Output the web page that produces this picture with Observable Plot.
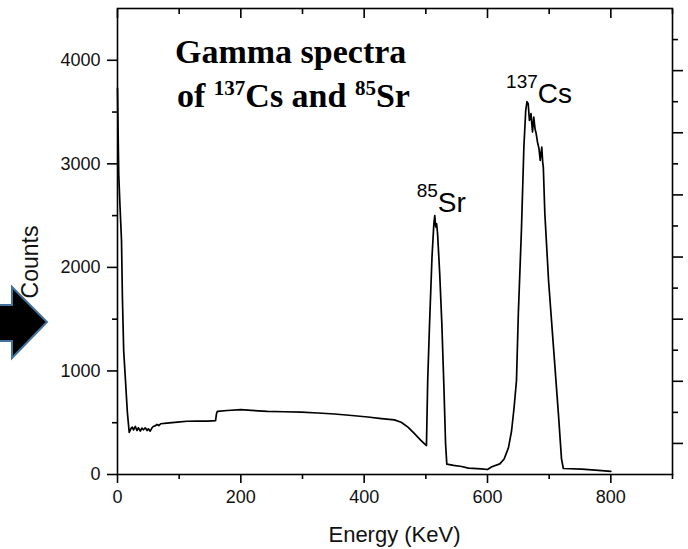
<!DOCTYPE html>
<html>
<head>
<meta charset="utf-8">
<script src="https://cdn.jsdelivr.net/npm/d3@7"></script>
<script src="https://cdn.jsdelivr.net/npm/@observablehq/plot@0.6"></script>
<style>
  html, body { margin: 0; padding: 0; background: white; }
  #chart { width: 688px; height: 549px; }
</style>
</head>
<body>
<div id="chart"></div>
<script>
// Spectrum (energy in keV, counts)
const energy = [0, 1, 2, 4, 6.5, 8, 10, 13, 16, 19,
  22, 24, 26, 29, 31.5, 34, 37, 39.5, 42, 45, 48, 50, 53, 56, 58, 61, 64, 67, 70,
  80, 97, 113, 129, 146, 159, 160.5, 162, 178, 200, 217, 243, 270, 298, 325, 352,
  380, 406, 428, 449, 460, 471, 482, 492, 501,
  503, 506, 510, 513, 514.5, 516, 517.5, 519, 522.5, 526, 529.5, 532, 534,
  545, 558, 569, 590, 600, 607, 620, 627, 634, 639, 643, 647,
  650, 655, 659, 662, 664, 666, 668, 670.5, 673, 675, 677, 679, 681, 683.5, 685.5,
  688, 689.5, 690.5, 693, 699, 707, 715, 720, 723, 753, 780, 800];
const counts = [3730, 3300, 2900, 2600, 2260, 1700, 1200, 900, 600, 406,
  445, 457, 431, 464, 425, 451, 419, 448, 432, 451, 425, 441, 419, 451, 464, 470, 483, 472, 490,
  496, 506, 514, 516, 516, 521, 586, 610, 618, 626, 619, 610, 606, 602, 594, 584,
  570, 555, 540, 528, 505, 457, 393, 330, 280,
  900, 1450, 2100, 2420, 2500, 2390, 2420, 2330, 1940, 1450, 810, 300, 100,
  88, 77, 61, 55, 48, 75, 103, 150, 260, 420, 640, 908,
  1553, 2357, 3162, 3517, 3600, 3580, 3420, 3485, 3307, 3452, 3340, 3290, 3211, 3147, 3034,
  3162, 3017, 2969, 2519, 1874, 1230, 586, 151, 58, 52, 39, 30];

// Axis ticks
const xMajor = [0, 200, 400, 600, 800];
const xMinor = [100, 300, 500, 700, 900];
const yMajor = [0, 1000, 2000, 3000, 4000];
const yMinor = [500, 1500, 2500, 3500];
const rightMajor = [300, 900, 1500, 2100, 2700, 3300, 3900];
const rightMinor = [600, 1200, 1800, 2400, 3000, 3600, 4200];

// Texts
const xLabel = "Energy (KeV)";
const yLabel = "Counts";
const titleLine1 = "Gamma spectra";
const titleLine2 = [["of ", false], ["137", true], ["Cs and ", false], ["85", true], ["Sr", false]];
const peakLabels = [
  {sup: "137", base: "Cs", E: 631, C: 3585},
  {sup: "85", base: "Sr", E: 486, C: 2531}
];

const spectrum = energy.map((e, i) => ({E: e, C: counts[i]}));

// tick-only axis helper (no text)
const ticksOnly = (k, values, anchor, size, dy = 0) =>
  (k === "x" ? Plot.axisX : Plot.axisY)(values, {anchor, tickSize: size, dy, fill: "none", label: null, stroke: "black", strokeWidth: 1.6});

const plot = Plot.plot({
  width: 688,
  height: 549,
  marginLeft: 117,
  marginRight: 16,
  marginTop: 8,
  marginBottom: 75,
  x: {domain: [0, 900]},
  y: {domain: [0, 4500]},
  style: {fontFamily: "'Liberation Sans', Arial, sans-serif", fontSize: "18px", color: "#111", background: "white", overflow: "visible"},
  marks: [
    Plot.line(spectrum, {x: "E", y: "C", stroke: "black", strokeWidth: 1.7, strokeLinejoin: "round", curve: "linear"}),
    Plot.frame({stroke: "black", strokeWidth: 1.6}),
    ticksOnly("y", yMajor, "left", 10),
    ticksOnly("y", yMinor, "left", 5),
    Plot.axisY(yMajor, {anchor: "left", tickSize: 0, tickPadding: 17, fontSize: 18, label: null, tickFormat: d => String(d)}),
    ticksOnly("x", xMajor, "bottom", 9),
    ticksOnly("x", xMinor, "bottom", 5),
    Plot.axisX(xMajor, {anchor: "bottom", tickSize: 0, tickPadding: 16, fontSize: 18, label: null, tickFormat: d => String(d)}),
    ticksOnly("x", xMajor, "top", 9, 9),
    ticksOnly("x", xMinor, "top", 5, 5),
    ticksOnly("y", rightMajor, "right", 10),
    ticksOnly("y", rightMinor, "right", 5)
  ]
});

document.getElementById("chart").appendChild(plot);

const sx = plot.scale("x"), sy = plot.scale("y");
const svg = d3.select(plot);

// Axis labels
svg.append("text")
  .attr("x", (sx.apply(0) + sx.apply(900)) / 2)
  .attr("y", 542)
  .attr("text-anchor", "middle")
  .attr("font-family", "'Liberation Sans', Arial, sans-serif")
  .attr("font-size", 22)
  .attr("fill", "#111")
  .text(xLabel);

svg.append("text")
  .attr("transform", "translate(38,262) rotate(-90)")
  .attr("text-anchor", "middle")
  .attr("font-family", "'Liberation Sans', Arial, sans-serif")
  .attr("font-size", 23)
  .attr("fill", "#111")
  .text(yLabel);

// Title (inside the frame)
const tx = 175;
svg.append("text")
  .attr("x", tx).attr("y", 63)
  .attr("text-anchor", "start")
  .attr("font-family", "'Liberation Serif', 'Times New Roman', serif")
  .attr("font-weight", "bold").attr("font-size", 34).attr("fill", "black")
  .text(titleLine1);
const t2 = svg.append("text")
  .attr("x", tx + 2).attr("y", 107)
  .attr("text-anchor", "start")
  .attr("font-family", "'Liberation Serif', 'Times New Roman', serif")
  .attr("font-weight", "bold").attr("font-size", 34).attr("fill", "black")
  .style("white-space", "pre");
let raised = false;
titleLine2.forEach(([s, sup]) => {
  const ts = t2.append("tspan").text(s);
  if (sup && !raised) { ts.attr("dy", -12); raised = true; }
  else if (!sup && raised) { ts.attr("dy", 12); raised = false; }
  if (sup) ts.attr("font-size", 21);
});

// Peak labels
peakLabels.forEach(p => {
  const t = svg.append("text")
    .attr("x", sx.apply(p.E)).attr("y", sy.apply(p.C))
    .attr("text-anchor", "start")
    .attr("font-family", "'Liberation Sans', Arial, sans-serif")
    .attr("fill", "black");
  t.append("tspan").attr("dy", -15).attr("font-size", 19).text(p.sup);
  t.append("tspan").attr("dy", 15).attr("font-size", 28).text(p.base);
});

// Decorative arrow at the left edge (from the source slide)
svg.append("path")
  .attr("d", "M-3,305 L12,305 L12,287 L47,322 L12,358 L12,341 L-3,341 Z")
  .attr("fill", "black")
  .attr("stroke", "#41719c")
  .attr("stroke-width", 2)
  .attr("stroke-linejoin", "miter");
</script>
</body>
</html>
